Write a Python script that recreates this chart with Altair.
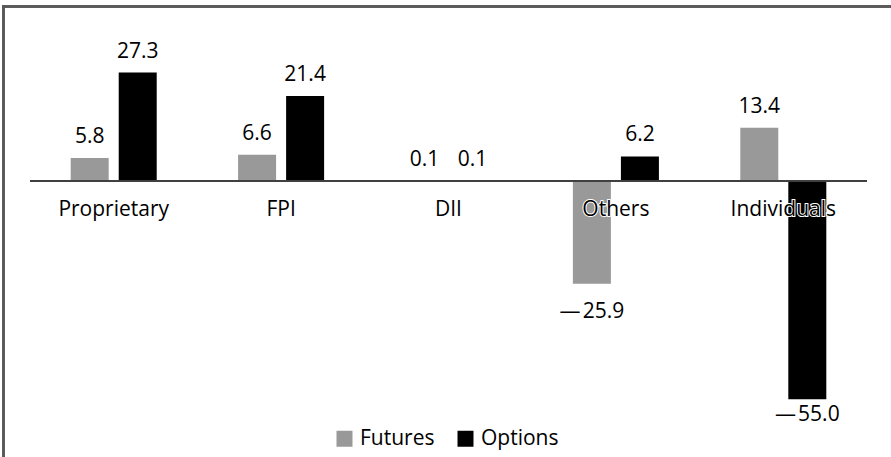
import altair as alt
import pandas as pd

categories = ["Proprietary", "FPI", "DII", "Others", "Individuals"]
futures = [5.8, 6.6, 0.1, -25.9, 13.4]
options = [27.3, 21.4, 0.1, 6.2, -55.0]
series = ["Futures", "Options"]
colors = ["#999999", "#000000"]

rows = []
for c, f, o in zip(categories, futures, options):
    rows.append({"cat": c, "series": "Futures", "value": f})
    rows.append({"cat": c, "series": "Options", "value": o})
df = pd.DataFrame(rows)
cat_df = pd.DataFrame({"cat": categories, "zero": [0] * len(categories)})

FONT = "Open Sans"
FS = 21
W, H = 891, 457

xscale = alt.Scale(domain=categories, range=[30, 867], paddingInner=0.486, paddingOuter=0.243)
yscale = alt.Scale(domain=[-69.52, 45.59], nice=False, zero=False)
xoff = alt.XOffset("series:N", scale=alt.Scale(domain=series, paddingInner=0.2083, paddingOuter=0))
color = alt.Color(
    "series:N",
    scale=alt.Scale(domain=series, range=colors),
    legend=alt.Legend(
        title=None, orient="none", direction="horizontal",
        legendX=334, legendY=428, symbolType="square", symbolSize=256,
        symbolStrokeWidth=0, labelFont=FONT, labelFontSize=FS, labelColor="#000000",
        labelOffset=5, columnPadding=20, padding=0,
    ),
)

base = alt.Chart(df)

bars = base.mark_bar(size=38).encode(
    x=alt.X("cat:N", scale=xscale, axis=None, sort=categories),
    xOffset=xoff,
    y=alt.Y("value:Q", scale=yscale, axis=None),
    y2=alt.datum(0),
    color=color,
)

labels = base.transform_calculate(
    lbl="datum.value < 0 ? '\u2014\u200a' + format(-datum.value, '.1f') : format(datum.value, '.1f')",
    ly="datum.value >= 0 ? datum.value + 3.8 : max(datum.value - 8.6, -60.45)",
).mark_text(font=FONT, fontSize=FS, baseline="alphabetic", color="#000000").encode(
    x=alt.X("cat:N", scale=xscale, axis=None, sort=categories),
    xOffset=xoff,
    y=alt.Y("ly:Q", scale=yscale, axis=None),
    text="lbl:N",
)

cat_halo = alt.Chart(cat_df).mark_text(
    font=FONT, fontSize=FS, baseline="alphabetic", dy=35, color="#ffffff",
    stroke="#ffffff", strokeWidth=2,
).encode(
    x=alt.X("cat:N", scale=xscale, axis=None, sort=categories),
    y=alt.Y("zero:Q", scale=yscale, axis=None),
    text="cat:N",
)
cat_text = alt.Chart(cat_df).mark_text(
    font=FONT, fontSize=FS, baseline="alphabetic", dy=35, color="#000000",
).encode(
    x=alt.X("cat:N", scale=xscale, axis=None, sort=categories),
    y=alt.Y("zero:Q", scale=yscale, axis=None),
    text="cat:N",
)

zero_line = alt.Chart(cat_df).mark_rule(color="#404040", strokeWidth=1.5).encode(
    x=alt.value(30), x2=alt.value(867),
    y=alt.Y("zero:Q", scale=yscale, axis=None),
)

top_border = alt.Chart(cat_df).mark_rule(color="#595959", strokeWidth=2).encode(
    x=alt.value(2.5), x2=alt.value(891), y=alt.value(6.5),
)
left_border = alt.Chart(cat_df).mark_rule(color="#595959", strokeWidth=2).encode(
    x=alt.value(3.5), y=alt.value(5.5), y2=alt.value(457),
)

chart = alt.layer(
    bars, zero_line, labels, cat_halo, cat_text, top_border, left_border
).properties(
    width=W, height=H, padding=0, autosize=alt.AutoSizeParams(type="none"),
    background="#ffffff",
).configure_view(stroke=None)

chart.save("out.html", embed_options={"renderer": "svg", "actions": False})
